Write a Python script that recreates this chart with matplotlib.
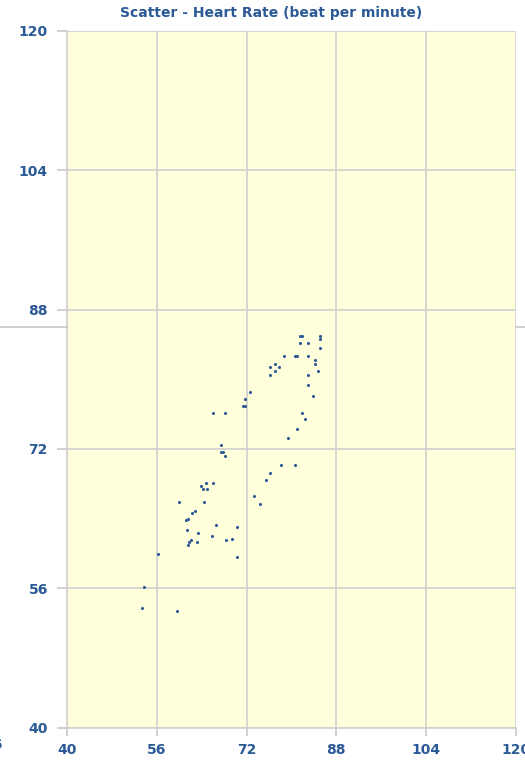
import matplotlib
matplotlib.use("Agg")
import matplotlib.pyplot as plt
from matplotlib.lines import Line2D

# heart rate pairs
hr_x = [81.5, 81.9, 85.1, 85.1, 81.5, 82.9, 85.1, 78.6, 80.6, 81.0,
        82.9, 84.2, 84.2, 77.0, 76.2, 77.8, 77.0, 84.7, 76.2, 82.9,
        82.9, 72.6, 71.7, 83.8, 71.3, 71.7, 66.0, 68.2, 81.9, 82.4,
        81.0, 79.4, 67.5, 67.5, 67.8, 68.2, 78.2, 80.6, 76.2, 75.5,
        73.3, 74.4, 64.7, 66.0, 63.9, 64.2, 65.0, 59.9, 64.4, 62.8,
        62.3, 61.6, 61.1, 66.6, 70.3, 61.3, 63.3, 65.8, 69.3, 68.4,
        62.1, 61.8, 63.1, 61.6, 70.3, 56.1, 53.7, 53.4, 59.6]
hr_y = [85.0, 85.0, 85.0, 84.6, 84.1, 84.1, 83.6, 82.7, 82.7, 82.7,
        82.7, 82.2, 81.8, 81.8, 81.4, 81.4, 80.9, 80.9, 80.5, 80.5,
        79.3, 78.5, 77.7, 78.1, 76.9, 76.9, 76.1, 76.1, 76.1, 75.4,
        74.3, 73.3, 72.5, 71.6, 71.6, 71.2, 70.2, 70.2, 69.2, 68.4,
        66.6, 65.7, 68.1, 68.1, 67.7, 67.4, 67.4, 65.9, 65.9, 64.9,
        64.6, 64.0, 63.8, 63.3, 63.0, 62.7, 62.3, 62.0, 61.7, 61.5,
        61.5, 61.3, 61.3, 61.0, 59.6, 59.9, 56.1, 53.7, 53.4]
ticks = [40, 56, 72, 88, 104, 120]

W, H = 525, 774
blue = "#2b5a96"

fig = plt.figure(figsize=(W / 100, H / 100), dpi=100)

# stray gray rule behind the chart, only visible in the margins
yl = 1 - 327 / H
for x0, x1 in [(0, 67 / W), (516 / W, 1)]:
  fig.lines.append(Line2D([x0, x1], [yl, yl], transform=fig.transFigure,
                          color="#c8c8c8", lw=1.2))

ax = fig.add_axes([67.3 / W, 1 - 727.7 / H, 448.4 / W, 697 / H])
ax.set_facecolor("#ffffdc")
ax.scatter(hr_x, hr_y, s=5, marker="o", color=blue, linewidths=0, zorder=3)

ax.set_xlim(40, 120)
ax.set_ylim(40, 120)
ax.set_xticks(ticks)
ax.set_yticks(ticks)
ax.grid(True, color="#d0d0d0", lw=1.2)
ax.set_axisbelow(True)
for s in ["top", "right"]:
  ax.spines[s].set_visible(False)
for s in ["left", "bottom"]:
  ax.spines[s].set_color("#d0d0d0")
  ax.spines[s].set_linewidth(1.2)
ax.tick_params(axis="both", colors="#c8c8c8", labelcolor=blue, width=1.2,
               labelsize=10)
ax.tick_params(axis="y", length=7, pad=7)
ax.tick_params(axis="x", length=6, pad=5)
for lab in ax.get_xticklabels() + ax.get_yticklabels():
  lab.set_fontweight("bold")

fig.text(271 / W, 1 - 13 / H, "Scatter - Heart Rate (beat per minute)",
         ha="center", va="center", color=blue, fontsize=10, fontweight="bold")
# cut-off label at the far left edge
fig.text(3.5 / W, 1 - 745 / H, "56", ha="right", va="center", color=blue,
         fontsize=10, fontweight="bold")

fig.savefig("out.png", dpi=100)
